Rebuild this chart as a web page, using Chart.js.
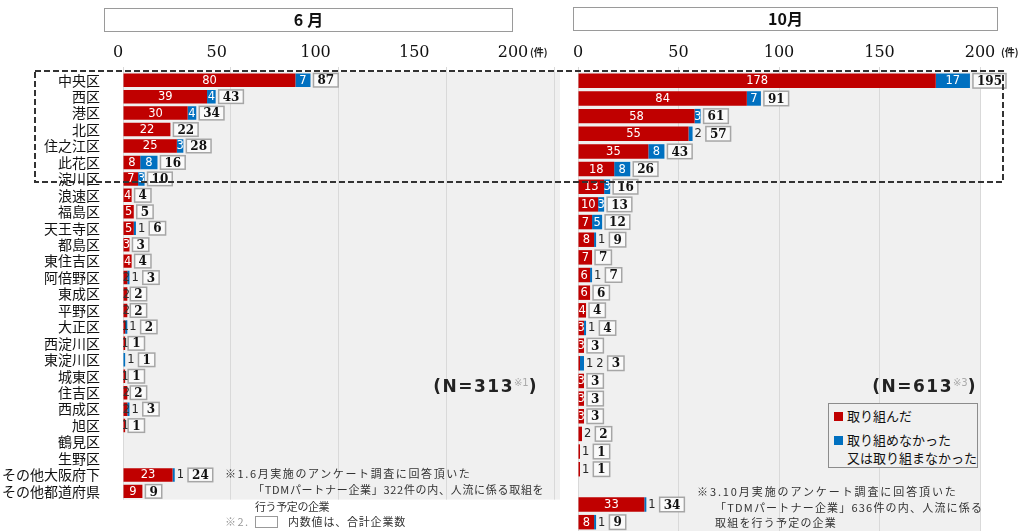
<!DOCTYPE html>
<html lang="ja"><head><meta charset="utf-8">
<script src="https://cdn.jsdelivr.net/npm/chart.js@4.4.1/dist/chart.umd.min.js"></script>
<style>
html,body{margin:0;padding:0;background:#fff;}
#wrap{position:relative;width:1027px;height:531px;overflow:hidden;font-family:"Noto Sans CJK JP","Noto Sans",sans-serif;color:#111;}
canvas{position:absolute;top:0;}
#cL{left:0;} #cR{left:560px;}
.t{position:absolute;white-space:nowrap;line-height:1;}
.title{position:absolute;box-sizing:border-box;border:1.5px solid #9a9a9a;background:#fff;text-align:center;font-weight:bold;font-size:16px;line-height:21px;color:#111;}
.unit{font-size:10px;font-weight:bold;color:#222;}
.nlab{font-family:"DejaVu Sans",sans-serif;font-weight:bold;font-size:17px;letter-spacing:1.5px;color:#222;}
.nlab .s{font-size:10px;color:#aaa;font-weight:normal;position:relative;top:-6px;letter-spacing:0;}
#legend{position:absolute;left:828px;top:403px;width:150px;height:65px;box-sizing:border-box;border:1.5px solid #8c8c8c;background:#f0f0f0;font-size:13px;}
.sq{position:absolute;width:9px;height:9px;}
.fn{font-size:11px;color:#333;}
svg{position:absolute;left:0;top:0;}
</style></head>
<body><div id="wrap">
<canvas id="cL" width="560" height="531"></canvas>
<canvas id="cR" width="467" height="531"></canvas>

<div class="title" style="left:104px;top:8px;width:409px;height:24px;"><span style="letter-spacing:4px">6</span>月</div>
<div class="title" style="left:573px;top:7px;width:425px;height:24px;">10月</div>
<div class="t unit" style="left:530px;top:47px;">(件)</div>
<div class="t unit" style="left:1001px;top:47px;">(件)</div>

<div class="t nlab" style="right:489px;top:378px;">(N=313<span class="s">※1</span>)</div>
<div class="t nlab" style="right:50px;top:378px;">(N=613<span class="s">※3</span>)</div>

<div id="legend">
  <div class="sq" style="left:5px;top:8px;background:#c00000"></div>
  <div class="t" style="left:18px;top:5px;">取り組んだ</div>
  <div class="sq" style="left:5px;top:32px;background:#0070c0"></div>
  <div class="t" style="left:18px;top:29px;">取り組めなかった</div>
  <div class="t" style="left:18px;top:47px;">又は取り組まなかった</div>
</div>

<div class="t fn" style="left:225px;top:468px;letter-spacing:1.6px;">※1.6月実施のアンケート調査に回答頂いた</div>
<div class="t fn" style="left:253px;top:484px;letter-spacing:0.7px;">「TDMパートナー企業」322件の内、人流に係る取組を</div>
<div class="t fn" style="left:255px;top:501px;letter-spacing:-0.4px;">行う予定の企業</div>
<div class="t fn" style="left:225px;top:516px;color:#999;letter-spacing:1.5px;">※2.</div>
<div style="position:absolute;left:255px;top:516px;width:23px;height:12px;box-sizing:border-box;border:1.5px solid #999;background:#fff;"></div>
<div class="t fn" style="left:288px;top:516px;letter-spacing:0.8px;">内数値は、合計企業数</div>

<div class="t fn" style="left:697px;top:486px;letter-spacing:1.9px;">※3.10月実施のアンケート調査に回答頂いた</div>
<div class="t fn" style="left:715px;top:502px;letter-spacing:1.2px;">「TDMパートナー企業」636件の内、人流に係る</div>
<div class="t fn" style="left:715px;top:517px;letter-spacing:1.2px;">取組を行う予定の企業</div>

<svg width="1027" height="531"><rect x="35" y="71" width="968" height="111" fill="none" stroke="#333" stroke-width="2" stroke-dasharray="6 3"/></svg>
</div>
<script>
const categories = ['中央区','西区','港区','北区','住之江区','此花区','淀川区','浪速区','福島区','天王寺区','都島区','東住吉区','阿倍野区','東成区','平野区','大正区','西淀川区','東淀川区','城東区','住吉区','西成区','旭区','鶴見区','生野区','その他大阪府下','その他都道府県'];
const seriesNames = ['取り組んだ','取り組めなかった又は取り組まなかった'];
const juneDone    = [80,39,30,22,25,8,7,4,5,5,3,4,2,2,2,1,1,0,1,2,2,1,0,0,23,9];
const juneNotDone = [7,4,4,0,3,8,3,0,0,1,0,0,1,0,0,1,0,1,0,0,1,0,0,0,1,0];
const juneTotal   = [87,43,34,22,28,16,10,4,5,6,3,4,3,2,2,2,1,1,1,2,3,1,0,0,24,9];
const octDone     = [178,84,58,55,35,18,13,10,7,8,7,6,6,4,3,3,1,3,3,3,2,1,1,0,33,8];
const octNotDone  = [17,7,3,2,8,8,3,3,5,1,0,1,0,0,1,0,2,0,0,0,0,0,0,0,1,1];
const octTotal    = [195,91,61,57,43,26,16,13,12,9,7,7,6,4,4,3,3,3,3,3,2,1,1,0,34,9];
const tickValues  = [0,50,100,150,200];

const RED = '#c00000', BLUE = '#0070c0';

function makeChart(id, done, notDone, total, cfg){
  const bgPlugin = {
    id:'bg',
    beforeDraw(chart){
      const a = chart.chartArea, c = chart.ctx;
      c.save(); c.fillStyle = '#f0f0f0';
      c.fillRect(a.left, a.top, (cfg.bgRight ?? a.right) - a.left, a.bottom - a.top);
      c.restore();
    }
  };
  const valPlugin = {
    id:'vals',
    afterDatasetsDraw(chart){
      const ctx = chart.ctx;
      const m0 = chart.getDatasetMeta(0), m1 = chart.getDatasetMeta(1);
      const zero = chart.scales.x.getPixelForValue(0);
      const inFont = '11.5px "DejaVu Sans", sans-serif';
      const boxFont = 'bold 12px "DejaVu Serif", serif';
      ctx.save();
      ctx.textBaseline = 'middle';
      for (let i = 0; i < categories.length; i++) {
        const b0 = m0.data[i], b1 = m1.data[i];
        const y = b0.y, h = b0.height;
        let end = zero;
        const outside = [];
        const segs = [[done[i], b0, 'red'], [notDone[i], b1, 'blue']];
        for (const [v, bar, kind] of segs) {
          if (!v) continue;
          const x0 = Math.min(bar.base, bar.x), x1 = Math.max(bar.base, bar.x);
          const w = x1 - x0;
          end = Math.max(end, x1);
          ctx.font = inFont;
          if (w >= 5.5) {
            ctx.save();
            ctx.beginPath(); ctx.rect(x0, y - h/2, w, h); ctx.clip();
            ctx.fillStyle = '#fff'; ctx.textAlign = 'center';
            ctx.fillText(String(v), (x0 + x1)/2, y + 0.5);
            ctx.restore();
          } else if (kind === 'red' && cfg.smallRedInside) {
            ctx.fillStyle = '#333'; ctx.textAlign = 'center';
            ctx.fillText(String(v), (x0 + x1)/2 + 1, y + 0.5);
          } else {
            outside.push(v);
          }
        }
        let cx = end + 2;
        ctx.font = inFont; ctx.fillStyle = '#262626'; ctx.textAlign = 'left';
        for (const v of outside) {
          ctx.fillText(String(v), cx, y + 0.5);
          cx += ctx.measureText(String(v)).width + 3;
        }
        if (total[i] > 0) {
          ctx.font = boxFont;
          const s = String(total[i]);
          const tw = ctx.measureText(s).width;
          const bx = outside.length ? cx + 1 : end + 3;
          const bw = tw + 8, bh = h;
          ctx.fillStyle = '#fafafa';
          ctx.fillRect(bx, y - bh/2, bw, bh);
          ctx.strokeStyle = '#a6a6a6'; ctx.lineWidth = 1.5;
          ctx.strokeRect(bx, y - bh/2, bw, bh);
          ctx.fillStyle = '#111'; ctx.textAlign = 'center';
          ctx.fillText(s, bx + bw/2, y + 1);
        }
      }
      ctx.restore();
    }
  };

  const scales = {
    x: {
      type:'linear', position:'top', stacked:true, min:0, max:200, weight:0,
      grid:{color:'#d9d9d9', lineWidth:1, drawTicks:true, tickLength:5},
      border:{display:false},
      ticks:{display:cfg.mainTicks, stepSize:50, font:{family:'DejaVu Serif', size:16}, color:'#111', padding:5, maxRotation:0},
      afterFit(s){ s.height = cfg.mainTicks ? 72 : 5; }
    },
    y: {
      type:'category', stacked:true, display:cfg.showY,
      grid:{display:false, drawTicks:false}, border:{display:false},
      ticks:{font:{family:'Noto Sans CJK JP', size:14}, color:'#111', padding:23, autoSkip:false},
      afterFit(s){ s.width = cfg.showY ? 123 : 0; }
    }
  };
  if (!cfg.mainTicks) {
    scales.xt = {
      type:'linear', axis:'x', position:'top', min:2.53, max:220.76, weight:1,
      grid:{display:false, drawTicks:false}, border:{display:false},
      ticks:{font:{family:'DejaVu Serif', size:16}, color:'#111', padding:5, autoSkip:false, maxRotation:0},
      afterBuildTicks(s){ s.ticks = tickValues.map(v => ({value:v})); },
      afterFit(s){ s.height = 67; }
    };
  }

  return new Chart(document.getElementById(id), {
    type:'bar',
    data:{
      labels:categories,
      datasets:[
        {label:seriesNames[0], data:done, backgroundColor:RED, borderWidth:0, categoryPercentage:1, barPercentage:0.82},
        {label:seriesNames[1], data:notDone, backgroundColor:BLUE, borderWidth:0, categoryPercentage:1, barPercentage:0.82}
      ]
    },
    options:{
      indexAxis:'y', responsive:false, animation:false, events:[],
      layout:{padding:cfg.padding},
      plugins:{legend:{display:false}, tooltip:{enabled:false}},
      scales
    },
    plugins:[bgPlugin, valPlugin]
  });
}

makeChart('cL', juneDone, juneNotDone, juneTotal,
  {bgRight:560, smallRedInside:true, mainTicks:false, showY:true, padding:{left:0,right:6,top:0,bottom:0}});
makeChart('cR', octDone, octNotDone, octTotal,
  {smallRedInside:false, mainTicks:true, showY:false, padding:{left:18,right:47,top:0,bottom:0}});
</script>
</body></html>
